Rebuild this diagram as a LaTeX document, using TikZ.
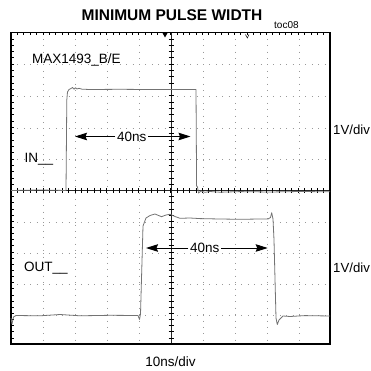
\documentclass[tikz,border=0pt]{standalone}
\usepackage{fontspec}
\setmainfont{Liberation Sans}
\usetikzlibrary{arrows.meta}
\begin{document}
\begin{tikzpicture}[x=1pt,y=-1pt,>={Stealth[length=12pt,width=7.5pt,inset=1.5pt]},
	lbl/.style={font=\fontsize{13.5}{15}\selectfont,inner sep=0pt},
	trace/.style={draw=black!55,line width=0.8pt,line join=round},
	gridline/.style={black!40,line width=0.7pt,dash pattern=on 0.8pt off 5.6pt}]
		\useasboundingbox (0,0) rectangle (371,371);
		\foreach \x in {43,75,107,139,203,235,267,299} \draw[gridline] (\x,32.5)--(\x,344);
		\foreach \y in {64,96,128,159,222,253,284,315} \draw[gridline] (11,\y)--(330,\y);
		\draw[line width=0.8pt,black!85] (171,32.5)--(171,344) (11,190.5)--(330,190.5);
		\foreach \i in {1,...,49} \draw[line width=0.6pt] ({11+6.38*\i},188)--++(0,5) ({11+6.38*\i},32.5)--++(0,3);
		\foreach \i in {1,...,24} \draw[line width=0.6pt] (168.5,{32.5+6.32*\i})--++(5,0) (11,{32.5+6.32*\i})--++(3,0) (168.5,{190.5+6.14*\i})--++(5,0) (11,{190.5+6.14*\i})--++(3,0);
		\draw[line width=1.2pt] (11,32.5) rectangle (330,344);
		\fill (162.5,33)--(167.5,33)--(165,37.5)--cycle;
		\draw[line width=0.5pt] (245.5,34.5)--(247.3,38)--(249,34.5);
		\draw[trace] (11,190.5)--(40,190)--(66,190.5)--(66.8,100)--(67.5,92)--(69,89.5)--(71,88.5)--(72.5,87.5)--(74,89.2)--(75.5,87.8)--(77,89)--(79,88.3)--(82,89.2)--(90,89.5)--(120,89.3)--(160,89.6)--(196,89.6)--(196.6,186)--(197.5,187)--(198.5,193)--(201,191)--(205,192.3)--(210,191.5)--(220,192.2)--(240,191.6)--(270,192)--(300,191.5)--(330,191.8);
		\draw[trace] (11,318)--(12,324)--(13.5,317)--(16,315.5)--(40,315.8)--(60,314.5)--(80,315.8)--(110,315.3)--(138,315.5)--(139.5,319.5)--(140.5,314)--(143,226)--(146,218)--(150,215.5)--(155,214)--(161.5,216.7)--(166,215)--(170,214.3)--(175,216.5)--(180,218.3)--(190,218)--(200,218.6)--(220,219)--(240,219.3)--(260,219)--(268,219)--(270.5,217.5)--(271.7,212.7)--(273,219)--(274,240)--(276,318)--(277.3,324.5)--(279,320)--(283,316)--(290,316.5)--(305,315.6)--(330,316);
		\node[font=\fontsize{15.5}{17}\selectfont\bfseries,anchor=base,inner sep=0pt] (title) at (172,20.7) {MINIMUM PULSE WIDTH};
		\node[font=\fontsize{10}{11}\selectfont,anchor=base west,inner sep=0pt] (toc) at (274,28.3) {toc08};
		\node[lbl,anchor=base west] (chip) at (32,64) {MAX1493\_B/E};
		\node[lbl,anchor=base west] (in) at (24.5,162.5) {IN\_\_};
		\node[lbl,anchor=base west] (out) at (24,271.5) {OUT\_\_};
		\node[lbl,anchor=base west,font=\fontsize{13.2}{15}\selectfont] (inscale) at (333,135) {1V/div};
		\node[lbl,anchor=base west,font=\fontsize{13.2}{15}\selectfont] (outscale) at (333,272) {1V/div};
		\node[lbl,anchor=base] (time) at (170.5,366.7) {10ns/div};
		\node[lbl] (inwidth) at (131.8,136.5) {40ns};
		\coordinate (inl) at (75,136.5);
		\coordinate (inr) at (190.5,136.5);
		\draw[->,line width=0.9pt,shorten <=1.5pt] (inwidth)--(inl);
		\draw[->,line width=0.9pt,shorten <=1.5pt] (inwidth)--(inr);
		\node[lbl] (outwidth) at (204.7,248) {40ns};
		\coordinate (outl) at (146,248);
		\coordinate (outr) at (267.7,248);
		\draw[->,line width=0.9pt,shorten <=1.5pt] (outwidth)--(outl);
		\draw[->,line width=0.9pt,shorten <=1.5pt] (outwidth)--(outr);
	\end{tikzpicture}
\end{document}
